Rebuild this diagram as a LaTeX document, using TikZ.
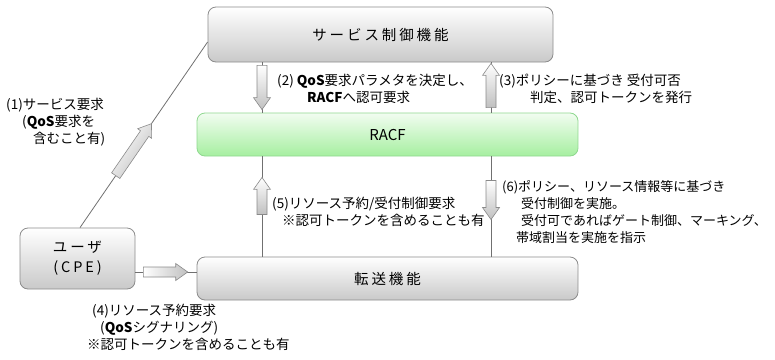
\documentclass[tikz,border=0pt]{standalone}
\usepackage{fontspec}
\setmainfont{Noto Sans CJK JP}
\usetikzlibrary{calc}
\definecolor{boxline}{HTML}{8C8C8C}
\definecolor{boxgray}{HTML}{C9C9C9}
\definecolor{greenline}{HTML}{8FD88F}
\definecolor{greenfill}{HTML}{A6EFA0}
\definecolor{arrline}{HTML}{8A8A8A}
\definecolor{arrgray}{HTML}{C0C0C0}
\definecolor{connline}{HTML}{707070}
% block arrow from tail (#2) to tip (#3), shading angle #1
\newcommand{\blockarrow}[3][0]{%
  \path[draw=arrline, line width=0.6pt, left color=white, right color=arrgray, shading angle=#1]
    ($(#2)!5pt!90:(#3)$) --
    ($($(#3)!12pt!(#2)$)!5pt!90:(#3)$) --
    ($($(#3)!12pt!(#2)$)!8.5pt!90:(#3)$) --
    (#3) --
    ($($(#3)!12pt!(#2)$)!8.5pt!-90:(#3)$) --
    ($($(#3)!12pt!(#2)$)!5pt!-90:(#3)$) --
    ($(#2)!5pt!-90:(#3)$) -- cycle;}
\begin{document}
\begin{tikzpicture}[x=1pt,y=-1pt,
  box/.style={draw=boxline, rounded corners=8pt, top color=white, bottom color=boxgray, inner sep=0pt, line width=0.8pt,
    font=\fontsize{14.5}{20}\selectfont\addfontfeature{LetterSpace=20}, align=center},
  gbox/.style={box, draw=greenline, top color=white!85!greenfill, bottom color=greenfill,
    font=\fontsize{15}{20}\selectfont},
  lbl/.style={font=\fontsize{13.5}{17}\selectfont, inner sep=0pt, align=left, anchor=base west},
  conn/.style={draw=connline, line width=0.8pt}]
\useasboundingbox (0,0) rectangle (775,359);

% boxes
\node[box, minimum width=345pt, minimum height=55pt] (svc) at (380.5,34.5) {サービス制御機能};
\node[gbox, minimum width=381pt, minimum height=43pt] (racf) at (387.5,134.5) {RACF};
\node[box, minimum width=381pt, minimum height=43pt] (fwd) at (387.5,278.5) {転送機能};
\node[box, minimum width=115pt, minimum height=61pt] (user) at (77.5,258.5) {ユーザ\\(CPE)};

% helper coordinates
\coordinate (cl) at (262,0);
\coordinate (cr) at (491,0);
\coordinate (ch) at (0,272);
\coordinate (u1) at (user.north -| 80,0);
\coordinate (s1) at (svc.west |- 0,42);

% connectors
\path[conn] (u1) -- (s1)
  coordinate[pos=0.28] (a1t) coordinate[pos=0.56] (a1h);
\path[conn] (svc.south -| cl) -- (racf.north -| cl)
  coordinate[pos=0.06] (a2t) coordinate[pos=0.94] (a2h);
\path[conn] (racf.north -| cr) -- (svc.south -| cr)
  coordinate[pos=0.10] (a3t) coordinate[pos=0.98] (a3h);
\path[conn] (user.east |- ch) -- (fwd.west |- ch)
  coordinate[pos=0.13] (a4t) coordinate[pos=0.855] (a4h);
\path[conn] (fwd.north -| cl) -- (racf.south -| cl)
  coordinate[pos=0.42] (a5t) coordinate[pos=0.79] (a5h);
\path[conn] (racf.south -| cr) -- (fwd.north -| cr)
  coordinate[pos=0.24] (a6t) coordinate[pos=0.63] (a6h);

% block arrows
\blockarrow[55]{a1t}{a1h}
\blockarrow[0]{a2t}{a2h}
\blockarrow[0]{a3t}{a3h}
\blockarrow[90]{a4t}{a4h}
\blockarrow[0]{a5t}{a5h}
\blockarrow[0]{a6t}{a6h}

% labels
\node[lbl] (t1) at (6,143) {(1)サービス要求\\\hspace*{16pt}(\textbf{QoS}要求を\\\hspace*{27pt}含むこと有)};
\node[lbl] (t2) at (277,102) {(2) \textbf{QoS}要求パラメタを決定し、\\\hspace*{30pt}\textbf{RACF}へ認可要求};
\node[lbl] (t3) at (499,102) {(3)ポリシーに基づき 受付可否\\\hspace*{31pt}判定、認可トークンを発行};
\node[lbl] (t5) at (272,225) {(5)リソース予約/受付制御要求\\\hspace*{10pt}※認可トークンを含めることも有};
\node[lbl, font=\fontsize{13}{17}\selectfont] (t6) at (502,242) {(6)ポリシー、リソース情報等に基づき\\\hspace*{19pt}受付制御を実施。\\\hspace*{19pt}受付可であればゲート制御、マーキング、\\\hspace*{14pt}帯域割当を実施を指示};
\node[lbl] (t4) at (92,349) {(4)リソース予約要求\\\hspace*{8pt}(\textbf{QoS}シグナリング)\\\hspace*{-5pt}※認可トークンを含めることも有};
\end{tikzpicture}
\end{document}
